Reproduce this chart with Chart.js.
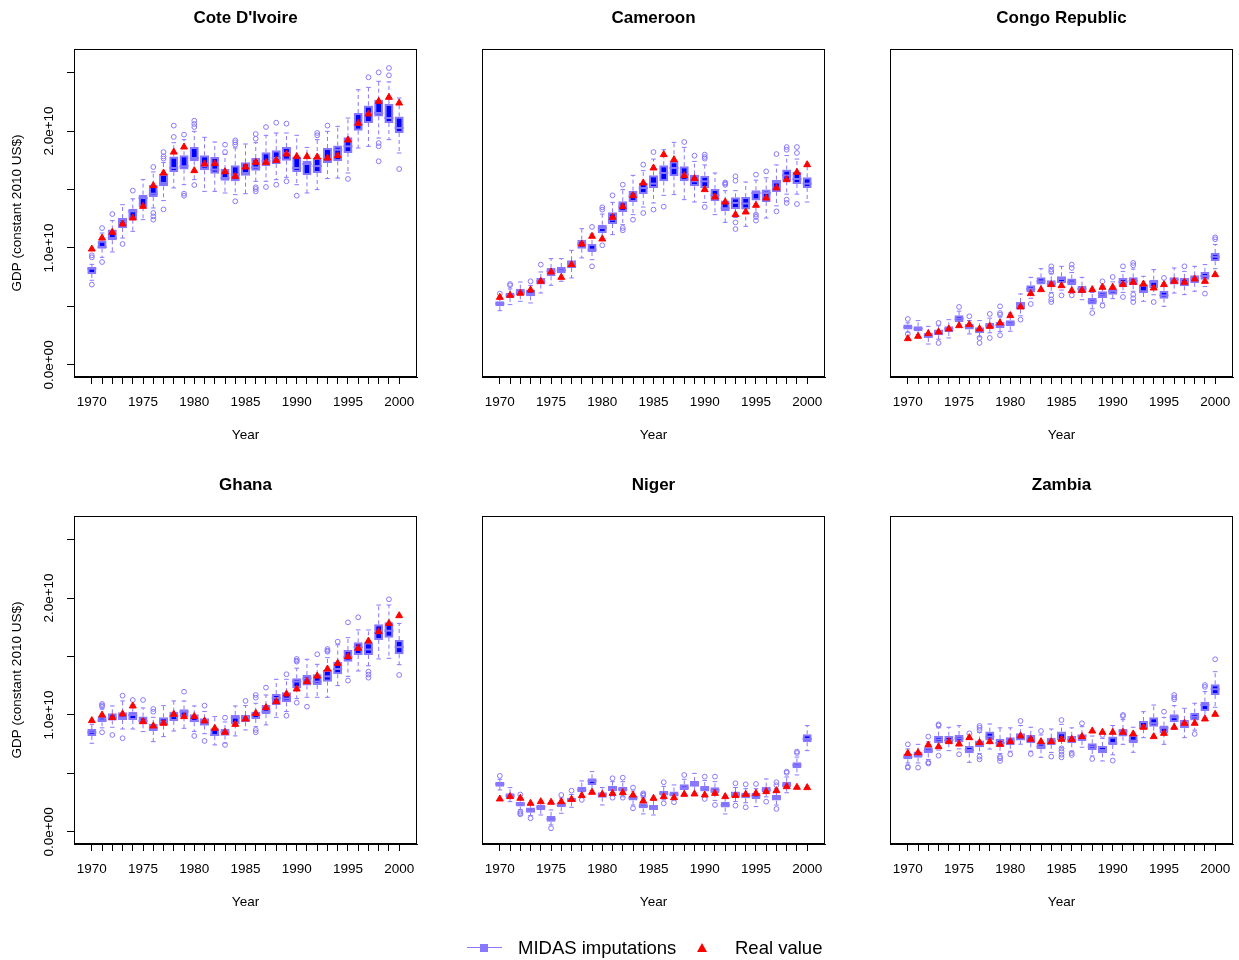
<!DOCTYPE html>
<html>
<head>
<meta charset="utf-8">
<script src="https://cdn.jsdelivr.net/npm/chart.js@4.4.1/dist/chart.umd.min.js"></script>
<style>
  html, body { margin: 0; padding: 0; background: #ffffff; }
  body { width: 1239px; height: 960px; position: relative; overflow: hidden; font-family: "Liberation Sans", Arial, sans-serif; }
  canvas { position: absolute; }
  .lg { position: absolute; font-size: 18.5px; color: #000; line-height: 22px; white-space: nowrap; }
</style>
</head>
<body>
<canvas id="c0" width="430" height="467" style="left:0px;top:0px"></canvas>
<canvas id="c1" width="418" height="467" style="left:420px;top:0px"></canvas>
<canvas id="c2" width="421" height="467" style="left:828px;top:0px"></canvas>
<canvas id="c3" width="430" height="467" style="left:0px;top:467px"></canvas>
<canvas id="c4" width="418" height="467" style="left:420px;top:467px"></canvas>
<canvas id="c5" width="421" height="467" style="left:828px;top:467px"></canvas>

<div style="position:absolute;left:467px;top:947px;width:35px;height:0;border-top:1px solid #8878ff"></div>
<div style="position:absolute;left:480px;top:944px;width:8px;height:8px;background:#8878ff"></div>
<div class="lg" style="left:518px;top:937px">MIDAS imputations</div>
<div style="position:absolute;left:697px;top:943px;width:0;height:0;border-left:5px solid transparent;border-right:5px solid transparent;border-bottom:9px solid #ff0000"></div>
<div class="lg" style="left:735px;top:937px">Real value</div>

<script>
// ---------- data (GDP, billions of constant 2010 US$) ----------
const years = [1970,1971,1972,1973,1974,1975,1976,1977,1978,1979,1980,1981,1982,1983,1984,1985,1986,1987,1988,1989,1990,1991,1992,1993,1994,1995,1996,1997,1998,1999,2000];
const xTickLabels = ["1970","1975","1980","1985","1990","1995","2000"];
const yTickMarks = [0, 5, 10, 15, 20, 25];
const yLabelValues = [0, 10, 20];
const yTickLabels = ["0.0e+00", "1.0e+10", "2.0e+10"];
const countries = ["Cote D'Ivoire", "Cameroon", "Congo Republic", "Ghana", "Niger", "Zambia"];

// Cote D'Ivoire
const CIV_box_lo = [7.78,9.94,10.66,11.71,12.42,13.48,14.36,15.27,16.5,16.7,17.41,16.64,16.35,15.75,15.7,16.18,16.61,16.98,17.18,17.46,16.5,16.21,16.41,17.26,17.41,18.12,20.03,20.68,21.25,20.68,19.83];
const CIV_box_hi = [8.38,10.63,11.57,12.56,13.36,14.56,15.41,16.32,17.83,17.92,18.63,17.92,17.78,16.75,17.07,17.32,17.69,18.18,18.35,18.63,17.83,17.46,17.69,18.55,18.75,19.46,21.54,22.19,22.68,22.31,21.25];
const CIV_median = [8.23,10.09,10.85,12.28,13.13,14.27,14.64,15.56,16.84,16.98,17.69,16.98,16.7,15.98,16.27,16.41,16.89,17.41,17.69,18.12,16.84,17.18,17.0,17.55,18.4,18.69,20.54,21.5,21.54,21.11,20.26];
const CIV_whisk_lo = [7.24,9.2,9.66,10.85,11.42,12.42,13.42,14.05,15.13,15.41,15.84,14.84,14.84,14.7,14.56,14.64,15.7,15.7,15.84,16.04,15.41,14.7,14.99,15.93,15.98,16.41,18.55,18.69,19.4,19.26,18.12];
const CIV_whisk_hi = [8.6,11.28,12.34,13.7,14.2,15.84,16.5,17.3,19.0,19.26,19.97,19.46,19.06,18.0,18.55,18.89,19.0,19.63,19.83,19.83,19.63,18.6,19.26,19.97,20.4,21.11,23.53,23.73,24.25,24.2,22.82];
const CIV_real = [9.91,10.85,11.34,12.05,12.56,13.56,15.33,16.41,18.2,18.63,16.61,17.18,17.21,16.52,16.13,16.92,17.32,17.32,17.49,18.03,17.81,17.81,17.78,17.69,17.89,19.23,20.66,21.45,22.54,22.88,22.39];
const CIV_outliers = [[9.2,9.37,6.87],[11.7,8.8],[12.9],[10.34],[14.9],[],[16.92,12.99,12.7,12.42],[18.2,17.83,17.64,13.3],[20.46,19.49],[19.69,14.64,14.47],[20.88,20.6,20.34,15.38],[],[],[18.83,18.2],[19.2,19.03,18.83,13.99],[],[19.74,19.34,15.19,15.04,14.84],[20.34,15.21],[20.71,15.41],[20.63,15.7],[14.47],[],[19.83,19.63],[20.46],[],[15.9],[],[24.59],[25.01,18.97,18.69,17.41],[25.38,24.76],[16.75]];

// Cameroon
const CMR_box_lo = [5.01,5.73,5.95,5.87,6.87,7.58,7.83,8.29,9.94,9.66,11.28,12.05,13.08,13.93,14.62,15.13,15.7,16.13,15.7,15.27,15.13,13.99,13.13,13.33,13.28,14.05,13.93,14.79,15.7,15.47,15.13];
const CMR_box_hi = [5.44,6.15,6.52,6.44,7.44,8.29,8.38,8.95,10.71,10.34,11.99,13.05,13.99,14.9,15.56,16.21,17.07,17.41,16.98,16.27,16.18,15.04,14.05,14.33,14.36,14.93,14.99,15.84,16.7,16.5,16.04];
const CMR_median = [5.24,5.95,6.2,6.1,7.15,8.0,8.1,8.72,10.34,9.86,11.71,12.42,13.53,14.42,15.13,15.5,16.41,16.84,16.27,15.7,15.7,14.5,13.4,13.85,13.8,14.7,14.7,15.6,16.2,15.9,15.5];
const CMR_whisk_lo = [4.64,5.16,5.44,5.3,6.15,6.81,7.15,7.44,9.15,9.0,10.71,11.14,11.99,12.85,13.5,13.85,14.5,14.56,14.13,13.93,13.9,12.85,12.19,12.6,11.85,12.9,12.56,13.6,14.6,14.6,13.93];
const CMR_whisk_hi = [5.7,6.5,7.09,6.8,7.95,9.09,9.09,9.8,11.65,11.2,12.9,13.9,14.99,16.21,16.61,17.6,18.4,19.03,18.6,17.4,17.1,16.41,14.9,14.9,15.64,15.8,16.0,17.1,17.9,17.6,17.0];
const CMR_real = [5.78,5.95,6.13,6.41,7.15,7.95,7.49,8.58,10.34,11.0,10.77,12.62,13.53,14.47,15.56,16.84,17.98,17.55,16.18,15.93,14.99,14.36,13.93,12.85,13.08,13.65,14.27,15.13,15.84,16.47,17.12];
const CMR_outliers = [[6.1],[6.92,6.81],[],[7.15],[8.58],[],[],[],[],[11.8,8.43],[13.48,13.28,10.23],[14.5],[15.41,11.71,11.51],[12.42],[17.12,12.99],[18.2,13.28],[13.53],[],[19.06],[17.89],[17.98,17.78,17.64,13.5],[],[15.6,15.5,15.4],[16.13,15.75,12.19,11.62],[],[16.27,12.85,12.65,12.34],[16.55],[18.03,13.13],[18.63,18.4,14.13,13.85],[18.63,18.12,13.76],[]];

// Congo Republic
const COG_box_lo = [3.02,2.88,2.31,2.54,2.82,3.68,3.02,2.74,3.11,3.16,3.3,4.73,6.24,6.87,6.67,7.01,6.81,6.15,5.16,5.73,6.01,6.72,6.81,6.15,6.58,5.67,6.87,6.72,7.01,7.29,8.86];
const COG_box_hi = [3.45,3.3,2.74,3.02,3.3,4.25,3.5,3.22,3.59,3.68,3.82,5.38,6.81,7.49,7.24,7.58,7.38,6.78,5.73,6.3,6.52,7.44,7.49,6.87,7.29,6.35,7.49,7.44,7.66,7.95,9.57];
const COG_median = [3.22,3.1,2.5,2.8,3.08,3.95,3.25,2.95,3.35,3.4,3.55,5.15,6.5,7.15,6.95,7.35,7.07,6.5,5.44,6.0,6.3,7.1,7.2,6.3,7.1,5.95,7.3,7.1,7.4,7.6,9.25];
const COG_whisk_lo = [2.8,2.6,1.79,2.2,2.31,3.3,2.65,2.4,2.75,2.85,2.88,4.2,5.7,6.4,6.2,6.4,6.3,5.58,4.8,5.3,5.67,6.2,6.3,5.44,6.0,5.01,6.15,6.01,6.3,6.7,8.23];
const COG_whisk_hi = [3.6,3.79,3.3,3.35,3.87,4.6,3.8,3.79,4.0,4.1,4.44,6.07,7.49,8.23,7.8,8.43,7.9,7.49,6.2,6.8,7.1,8.0,8.2,7.58,8.15,7.0,8.29,8.0,8.43,8.58,10.3];
const COG_real = [2.25,2.45,2.68,2.82,3.08,3.36,3.45,3.08,3.3,3.59,4.22,4.96,6.1,6.44,6.87,6.78,6.35,6.38,6.44,6.64,6.64,6.87,7.07,6.92,6.58,6.87,7.15,7.07,7.35,7.15,7.72];
const COG_outliers = [[3.93,2.65],[],[],[3.59,1.88],[],[4.96],[4.16],[2.31,1.88],[4.36,2.31],[5.01,4.44,4.3,2.54],[],[3.87],[5.21],[],[8.43,8.15,7.95,5.95,5.6,5.38],[5.95],[8.58,8.29,5.95],[],[4.44],[7.15,5.07],[7.52],[8.43,5.81],[8.72,8.52,6.01,5.7,5.38],[],[5.38],[7.44],[],[8.43],[],[6.1],[10.91,10.75]];

// Ghana
const GHA_box_lo = [8.21,9.37,9.52,9.57,9.57,9.2,8.63,9.09,9.49,9.8,9.37,9.09,8.21,8.23,9.2,9.37,9.66,10.06,10.85,11.08,12.28,12.51,12.56,12.85,13.48,14.56,15.13,15.13,16.41,16.61,15.19];
const GHA_box_hi = [8.8,9.86,10.14,10.23,10.28,9.86,9.23,9.8,10.28,10.48,10.06,9.72,8.86,8.8,10.0,10.0,10.28,10.85,11.79,11.94,13.13,13.42,13.48,13.85,14.56,15.56,16.21,16.21,17.75,17.92,16.41];
const GHA_median = [8.52,9.55,9.75,9.8,10.0,9.49,8.86,9.43,9.9,10.28,9.49,9.2,8.29,8.52,9.77,9.86,10.0,10.28,11.45,11.4,12.85,13.13,12.85,13.3,13.93,14.93,15.8,15.6,17.0,17.2,15.8];
const GHA_whisk_lo = [7.58,8.9,8.95,8.8,8.8,8.58,7.72,8.15,8.63,8.86,8.6,8.4,7.44,7.6,8.21,8.72,9.0,9.15,9.8,10.3,11.4,11.51,11.51,11.51,12.51,13.3,13.76,14.2,14.79,14.84,14.3];
const GHA_whisk_hi = [9.2,10.5,10.77,11.2,10.9,10.6,9.8,10.8,11.2,11.2,10.77,10.3,9.86,9.4,10.77,10.8,11.0,11.71,13.05,13.05,14.0,14.76,14.33,14.9,16.0,16.61,17.27,17.27,19.4,19.4,17.83];
const GHA_real = [9.52,10.0,9.77,10.09,10.77,9.43,9.06,9.29,10.06,9.86,9.86,9.49,8.86,8.52,9.2,9.66,10.14,10.63,11.14,11.79,12.22,12.85,13.33,13.93,14.42,14.99,15.7,16.32,17.12,17.83,18.49];
const GHA_outliers = [[],[10.94,10.82,10.71,8.52],[8.29],[11.65,8.01],[11.28],[11.28],[10.51,10.28],[],[],[11.99],[8.21],[10.8,7.78],[],[9.77,7.44],[],[11.2],[11.71,11.48,8.72,8.52],[12.34],[],[13.48,9.94],[14.79,14.65,14.56,11.05],[10.71],[15.19],[15.64,15.5,15.41],[16.27],[17.92,12.94],[18.35],[13.7,13.45,13.19],[],[19.89],[13.42]];

// Niger
const NER_box_lo = [3.87,2.88,2.17,1.65,1.88,0.88,2.11,2.54,3.39,4.02,2.93,3.5,3.45,2.68,2.02,1.88,3.11,3.02,3.59,3.87,3.45,3.3,2.08,2.96,2.88,2.82,3.39,2.68,3.79,5.44,7.66];
const NER_box_hi = [4.3,3.3,2.59,2.08,2.31,1.37,2.54,2.93,3.87,4.59,3.39,3.96,3.87,3.11,2.45,2.31,3.5,3.45,4.07,4.36,3.93,3.82,2.59,3.45,3.36,3.36,3.87,3.16,4.3,5.95,8.35];
const NER_median = [4.1,3.1,2.4,1.85,2.1,1.1,2.3,2.75,3.6,4.35,3.2,3.7,3.65,2.9,2.2,2.1,3.3,3.2,3.8,4.1,3.7,3.55,2.3,3.2,3.1,3.1,3.6,2.9,4.0,5.7,7.95];
const NER_whisk_lo = [3.59,2.59,1.9,1.4,1.45,0.6,1.6,2.11,3.0,3.55,2.31,3.1,3.0,2.3,1.54,1.45,2.75,2.75,3.3,3.3,3.1,2.7,1.54,2.6,2.5,2.17,3.0,2.3,3.35,4.87,6.95];
const NER_whisk_hi = [4.5,3.79,2.9,2.4,2.6,1.88,2.9,3.2,4.36,5.16,3.8,4.3,4.3,3.5,2.9,2.7,3.9,4.02,4.5,5.01,4.4,4.3,3.0,3.8,3.7,3.7,4.53,3.7,4.7,6.4,9.09];
const NER_real = [2.82,3.02,2.88,2.45,2.59,2.54,2.59,2.79,3.11,3.39,3.22,3.3,3.36,3.16,2.65,2.88,3.02,2.93,3.22,3.25,3.16,3.3,3.02,3.11,3.22,3.3,3.45,3.53,3.87,3.82,3.79];
const NER_outliers = [[4.79],[],[3.2,1.74,1.6,1.51],[1.17],[],[0.31],[3.16],[3.53],[2.74],[],[],[4.59,2.93],[4.64,2.93],[3.79,2.02],[3.3,3.2,3.1],[],[4.25,2.45],[2.54],[4.87],[],[4.73,2.82],[4.73,2.31],[],[4.16,2.25],[4.07,2.11],[4.1],[2.59],[4.25,4.0,1.97],[5.16,5.05],[6.87,6.75],[]];

// Zambia
const ZMB_box_lo = [6.21,6.35,6.72,7.58,7.58,7.66,6.72,7.24,7.81,7.29,7.44,7.81,7.58,7.07,7.44,7.86,7.58,7.78,7.01,6.72,7.44,8.15,7.58,8.77,9.0,8.43,9.37,8.86,9.52,10.34,11.71];
const ZMB_box_hi = [6.67,6.87,7.24,8.23,8.21,8.29,7.35,7.81,8.58,7.95,8.09,8.43,8.29,7.64,8.06,8.58,8.21,8.35,7.58,7.35,8.15,8.8,8.29,9.49,9.8,9.09,10.06,9.57,10.2,11.14,12.62];
const ZMB_median = [6.4,6.6,6.95,7.9,7.85,8.0,7.0,7.6,8.15,7.6,7.75,8.25,7.9,7.3,7.75,8.43,7.9,8.2,7.3,7.0,7.6,8.6,7.8,9.0,9.3,8.9,9.8,9.1,9.85,10.85,12.2];
const ZMB_whisk_lo = [5.9,5.9,6.2,7.0,6.95,7.1,5.95,6.7,7.09,6.7,6.9,7.5,6.9,6.38,6.8,7.2,6.9,7.24,6.5,6.07,6.6,7.49,6.81,8.06,8.15,7.49,8.77,8.06,8.7,9.8,10.66];
const ZMB_whisk_hi = [7.1,7.49,7.7,8.9,8.95,9.09,8.0,8.5,9.23,8.9,8.9,9.1,8.95,8.3,8.8,9.2,8.9,9.0,8.2,8.0,9.1,9.6,8.95,10.28,10.85,9.8,10.8,10.57,11.0,12.0,13.7];
const ZMB_real = [6.72,6.78,7.44,7.29,7.72,7.52,8.06,7.64,7.72,7.49,7.72,8.21,7.92,7.72,7.72,7.92,7.92,8.15,8.63,8.52,8.52,8.52,8.38,8.95,8.15,8.43,8.95,9.29,9.29,9.66,10.06];
const ZMB_outliers = [[7.49,5.58,5.5],[5.5],[8.15,5.95,5.85],[9.2,9.1,6.52],[],[6.64],[8.43],[9.06,8.9,8.72,6.44,6.21],[],[6.44,6.3,6.07],[6.64],[9.49],[6.67],[8.63],[6.44],[9.57,7.15,6.9,6.6,6.38],[6.75,6.58],[9.29],[6.24],[8.29],[6.1],[10.0,9.9],[],[],[],[10.28],[11.71,11.5,11.34],[],[8.38],[12.56,12.4],[14.76]];

// ---------- drawing ----------
const FONT = '"Liberation Sans", Arial, Helvetica, sans-serif';
const PURPLE = '#8878ff';
const BLUE = '#0000ff';
const RED = '#ff0000';

const panelData = [
  [CIV_box_lo, CIV_box_hi, CIV_median, CIV_whisk_lo, CIV_whisk_hi, CIV_real, CIV_outliers],
  [CMR_box_lo, CMR_box_hi, CMR_median, CMR_whisk_lo, CMR_whisk_hi, CMR_real, CMR_outliers],
  [COG_box_lo, COG_box_hi, COG_median, COG_whisk_lo, COG_whisk_hi, COG_real, COG_outliers],
  [GHA_box_lo, GHA_box_hi, GHA_median, GHA_whisk_lo, GHA_whisk_hi, GHA_real, GHA_outliers],
  [NER_box_lo, NER_box_hi, NER_median, NER_whisk_lo, NER_whisk_hi, NER_real, NER_outliers],
  [ZMB_box_lo, ZMB_box_hi, ZMB_median, ZMB_whisk_lo, ZMB_whisk_hi, ZMB_real, ZMB_outliers]
];

const framePlugin = {
  id: 'frame',
  afterDraw(chart, args, opts) {
    const {ctx, chartArea: a} = chart;
    ctx.save();
    ctx.strokeStyle = '#000';
    ctx.lineWidth = 1;
    ctx.strokeRect(Math.round(a.left) + 0.5, Math.round(a.top) + 0.5, Math.round(a.right - a.left) - 1, Math.round(a.bottom - a.top) - 1);
    // panel title
    ctx.fillStyle = '#000';
    ctx.font = 'bold 17px ' + FONT;
    ctx.textAlign = 'center';
    ctx.textBaseline = 'middle';
    ctx.fillText(opts.title, (a.left + a.right) / 2, 18);
    // rotated y tick labels
    if (opts.showY) {
      const ys = chart.scales.y;
      ctx.font = '13.5px ' + FONT;
      yLabelValues.forEach((v, k) => {
        const py = ys.getPixelForValue(v);
        ctx.save();
        ctx.translate(a.left - 25, py);
        ctx.rotate(-Math.PI / 2);
        ctx.fillText(yTickLabels[k], 0, 0);
        ctx.restore();
      });
    }
    ctx.restore();
  }
};

function makePanel(idx) {
  const [lo, hi, med, wlo, whi, real, outs] = panelData[idx];
  const showY = (idx % 3 === 0);
  const col = idx % 3;
  const pads = [{left: 0, right: 13}, {left: 62, right: 13}, {left: 62, right: 16}][col];

  const boxData = years.map((y, i) => ({x: y, y: [lo[i], hi[i]]}));
  const medData = years.map((y, i) => ({x: y, y: med[i]}));
  const whiskData = [];
  years.forEach((y, i) => {
    whiskData.push({x: y, y: hi[i]}, {x: y, y: whi[i]}, {x: y, y: null});
    whiskData.push({x: y, y: lo[i]}, {x: y, y: wlo[i]}, {x: y, y: null});
  });
  const capData = [];
  years.forEach((y, i) => { capData.push({x: y, y: whi[i]}, {x: y, y: wlo[i]}); });
  const outData = [];
  years.forEach((y, i) => { outs[i].forEach(v => outData.push({x: y, y: v})); });
  const realData = years.map((y, i) => ({x: y, y: real[i]}));

  const tickFont = {family: FONT, size: 13.5};

  return new Chart(document.getElementById('c' + idx), {
    type: 'bar',
    data: {
      datasets: [
        {type: 'line', data: whiskData, borderColor: PURPLE, borderWidth: 1, borderDash: [4, 3],
         pointRadius: 0, spanGaps: false, fill: false, order: 6},
        {type: 'line', data: capData, showLine: false, pointStyle: 'line', pointRadius: 2.3,
         pointBorderColor: PURPLE, borderColor: PURPLE, pointBorderWidth: 1, order: 5},
        {type: 'bar', data: boxData, backgroundColor: BLUE, borderColor: PURPLE, borderWidth: 2,
         borderSkipped: false, barThickness: 9, inflateAmount: 0, order: 4},
        {type: 'line', data: medData, showLine: false, pointStyle: 'line', pointRadius: 4.5,
         pointBorderColor: PURPLE, borderColor: PURPLE, pointBorderWidth: 2, order: 3},
        {type: 'line', data: outData, showLine: false, pointStyle: 'circle', pointRadius: 2.4,
         pointBorderColor: PURPLE, borderColor: PURPLE, pointBackgroundColor: 'rgba(0,0,0,0)', pointBorderWidth: 1, order: 2},
        {type: 'line', data: realData, showLine: false, pointStyle: 'triangle', pointRadius: 4,
         pointBorderColor: RED, pointBackgroundColor: RED, borderColor: RED, pointBorderWidth: 1, order: 1}
      ]
    },
    options: {
      responsive: false,
      animation: false,
      events: [],
      layout: {padding: {left: pads.left, right: pads.right, top: 49, bottom: 20}},
      plugins: {
        legend: {display: false},
        tooltip: {enabled: false},
        frame: {title: countries[idx], showY: showY}
      },
      scales: {
        x: {
          type: 'linear', min: 1968.26, max: 2001.74, offset: false,
          afterBuildTicks: s => { s.ticks = years.map(v => ({value: v})); },
          afterFit: s => { s.height = 70; s.paddingLeft = 0; s.paddingRight = 0; },
          grid: {display: true, drawOnChartArea: false, drawTicks: true, tickLength: 7, color: '#000', lineWidth: 1, offset: false},
          border: {display: true, color: '#000', width: 1},
          ticks: {autoSkip: false, maxRotation: 0, minRotation: 0, padding: 10, color: '#000', font: tickFont,
                  callback: v => (xTickLabels.indexOf(String(v)) >= 0 ? String(v) : '')},
          title: {display: true, text: 'Year', color: '#000', font: tickFont, padding: {top: 0, bottom: 4}}
        },
        y: {
          type: 'linear', min: -1.03, max: 27.01, display: showY,
          afterBuildTicks: s => { s.ticks = yTickMarks.map(v => ({value: v})); },
          afterFit: s => { s.width = showY ? 74 : 0; s.paddingTop = 0; s.paddingBottom = 0; },
          grid: {display: true, drawOnChartArea: false, drawTicks: true, tickLength: 7, color: '#000', lineWidth: 1},
          border: {display: true, color: '#000', width: 1},
          ticks: {padding: 0, color: '#000', font: tickFont, callback: () => ''},
          title: {display: true, text: 'GDP (constant 2010 US$)', color: '#000', font: tickFont, padding: {top: 9, bottom: 0}}
        }
      }
    },
    plugins: [framePlugin]
  });
}

for (let i = 0; i < 6; i++) makePanel(i);
</script>
</body>
</html>
